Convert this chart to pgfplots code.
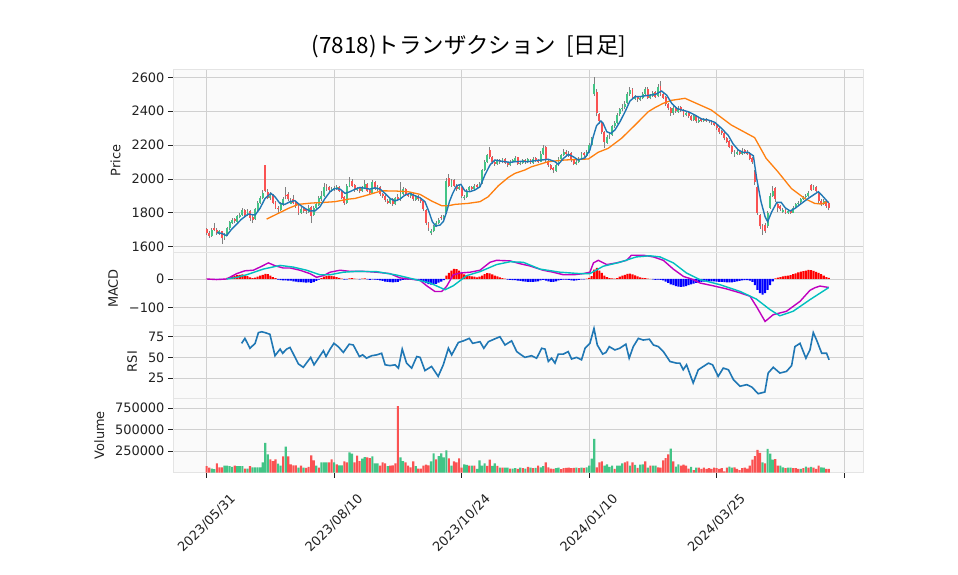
\documentclass[border=0pt]{standalone}
\usepackage{fontspec}
\setmainfont{DejaVu Sans}
\newfontfamily\cjk{Noto Sans CJK JP}
\usepackage{pgfplots}
\pgfplotsset{compat=1.18}
\usepackage{pgfplotstable}

\definecolor{upc}{RGB}{66,196,134}
\definecolor{dnc}{RGB}{250,82,82}
\definecolor{wickc}{RGB}{128,128,128}
\definecolor{gridc}{RGB}{208,208,208}
\definecolor{bgc}{RGB}{250,250,250}
\definecolor{edgec}{RGB}{228,228,228}
\definecolor{ma5c}{RGB}{31,119,180}
\definecolor{ma25c}{RGB}{255,127,14}
\definecolor{macdc}{RGB}{191,0,191}
\definecolor{sigc}{RGB}{0,191,191}
\definecolor{tickc}{RGB}{34,34,34}

% i  open high low close  volume(thousands)  volume-up  macd-hist
\pgfplotstableread{
i o h l c v vc hd
0 1705 1712 1668 1680 73 0 0
1 1680 1690 1652 1665 58 0 -1
2 1665 1712 1660 1700 46 1 0
3 1712 1738 1690 1700 38 1 -1
4 1700 1708 1672 1680 107 0 -1
5 1678 1700 1670 1690 61 0 -2
6 1690 1695 1618 1650 61 0 -2
7 1652 1680 1640 1670 80 1 0
8 1668 1718 1662 1710 80 1 4
9 1708 1752 1700 1745 73 1 7
10 1742 1772 1735 1760 65 1 10
11 1765 1772 1738 1750 80 0 12
12 1748 1790 1742 1780 73 1 14
13 1778 1800 1768 1790 73 1 15
14 1788 1828 1782 1815 73 1 16
15 1815 1822 1782 1790 46 0 12
16 1788 1820 1780 1810 46 1 10
17 1810 1815 1752 1770 73 0 6
18 1775 1788 1742 1760 61 1 3
19 1762 1828 1758 1820 61 1 5
20 1818 1868 1812 1860 61 1 8
21 1858 1898 1850 1890 61 1 12
22 1888 1932 1880 1920 119 1 15
23 2080 2085 1922 1930 345 1 18
24 1925 1940 1880 1890 211 1 17
25 1888 1922 1875 1900 154 0 12
26 1905 1910 1850 1860 134 0 7
27 1862 1870 1822 1830 154 0 3
28 1830 1838 1800 1820 104 1 -2
29 1818 1862 1812 1850 80 1 -4
30 1848 1892 1840 1880 188 0 -5
31 1905 1950 1880 1900 303 1 -5
32 1910 1925 1870 1880 188 0 -6
33 1855 1890 1850 1870 96 0 -6
34 1880 1905 1850 1860 84 0 -8
35 1862 1870 1830 1840 84 0 -9
36 1840 1848 1790 1800 58 1 -11
37 1800 1832 1795 1820 80 0 -11
38 1822 1830 1800 1810 58 1 -12
39 1820 1825 1795 1810 54 0 -13
40 1805 1845 1800 1830 65 0 -12
41 1835 1840 1740 1780 200 0 -14
42 1785 1842 1780 1830 142 0 -11
43 1828 1860 1820 1850 80 1 -7
44 1848 1900 1842 1890 58 0 -2
45 1880 1930 1870 1900 119 1 3
46 1900 1975 1895 1950 119 1 8
47 1960 1968 1930 1950 119 1 11
48 1950 1958 1920 1935 119 0 12
49 1932 1952 1925 1940 154 0 11
50 1938 1960 1930 1945 119 1 9
51 1942 1962 1935 1950 96 0 7
52 1955 1960 1922 1930 84 1 4
53 1930 1935 1880 1890 84 1 1
54 1892 1898 1845 1860 130 0 -2
55 1860 1968 1855 1960 119 0 -1
56 1958 2010 1950 1985 234 1 2
57 1990 2000 1950 1960 219 1 3
58 1962 1970 1925 1935 119 0 1
59 1935 1952 1928 1940 196 0 0
60 1945 1950 1920 1930 134 0 -1
61 1928 1958 1922 1950 161 1 1
62 1948 1995 1942 1970 180 1 2
63 1972 1978 1922 1930 177 0 -1
64 1932 1938 1910 1920 169 0 -3
65 1920 1995 1915 1980 188 1 -1
66 1982 1988 1935 1940 107 1 -2
67 1938 1962 1930 1950 107 1 -3
68 1952 1958 1900 1910 80 0 -5
69 1912 1918 1890 1900 119 0 -7
70 1902 1908 1865 1875 107 0 -9
71 1870 1880 1850 1860 73 1 -10
72 1858 1888 1852 1880 80 0 -11
73 1882 1886 1840 1850 84 0 -12
74 1852 1895 1846 1885 107 0 -11
75 1895 1910 1868 1880 776 0 -10
76 1878 1985 1872 1910 177 1 -6
77 1912 1950 1905 1940 134 1 -3
78 1942 1948 1900 1910 119 0 -2
79 1912 1918 1892 1900 80 0 -2
80 1898 1925 1890 1915 61 0 -1
81 1912 1918 1872 1880 130 0 -2
82 1878 1908 1872 1900 73 1 -3
83 1902 1906 1872 1880 46 0 -4
84 1882 1888 1860 1870 46 0 -6
85 1872 1876 1810 1820 80 0 -10
86 1815 1820 1728 1740 92 0 -15
87 1738 1745 1695 1710 84 0 -18
88 1680 1705 1668 1690 130 1 -20
89 1692 1730 1685 1720 223 1 -19
90 1722 1750 1715 1740 154 0 -17
91 1742 1770 1735 1760 192 1 -13
92 1775 1785 1755 1770 223 1 -9
93 1772 1790 1762 1780 177 1 -4
94 1800 2005 1795 1990 257 1 12
95 2005 2030 1950 1960 165 0 22
96 1960 2000 1955 1990 80 1 30
97 1995 2002 1950 1960 130 0 36
98 1962 1968 1930 1940 119 0 35
99 1942 1962 1935 1950 165 0 30
100 1950 1955 1890 1900 58 0 22
101 1885 1905 1875 1895 96 1 16
102 1896 1940 1890 1930 88 1 13
103 1932 1960 1925 1950 80 0 11
104 1952 1958 1932 1940 80 1 9
105 1942 1970 1936 1960 80 0 8
106 1962 1968 1942 1950 42 1 6
107 1952 1980 1945 1970 142 1 8
108 1975 2060 1970 2050 80 1 12
109 2052 2110 2045 2100 107 1 17
110 2102 2150 2095 2140 77 0 21
111 2170 2190 2120 2130 150 0 20
112 2128 2135 2090 2100 77 1 16
113 2102 2108 2078 2090 107 1 12
114 2088 2120 2082 2110 77 0 9
115 2112 2118 2090 2100 58 1 6
116 2098 2125 2092 2115 58 0 3
117 2116 2122 2088 2095 58 1 1
118 2096 2100 2070 2080 58 1 -2
119 2082 2110 2076 2100 46 0 -3
120 2098 2120 2092 2110 46 1 -4
121 2108 2135 2100 2125 50 1 -4
122 2128 2132 2082 2090 42 0 -6
123 2088 2105 2080 2095 58 1 -7
124 2094 2118 2088 2110 50 0 -8
125 2112 2116 2090 2100 46 1 -9
126 2098 2125 2092 2115 65 0 -10
127 2116 2120 2088 2095 58 1 -10
128 2094 2130 2090 2120 50 0 -10
129 2122 2128 2102 2110 54 1 -9
130 2112 2116 2092 2100 80 0 -8
131 2102 2165 2098 2150 61 1 -5
132 2148 2200 2140 2180 73 1 -3
133 2190 2195 2100 2110 119 0 -6
134 2108 2115 2070 2080 61 0 -8
135 2082 2088 2050 2060 46 0 -10
136 2062 2068 2035 2050 42 0 -10
137 2048 2090 2042 2080 50 1 -8
138 2082 2130 2075 2120 58 1 -5
139 2118 2150 2110 2140 38 0 -3
140 2142 2175 2135 2160 50 0 -2
141 2162 2170 2140 2150 54 0 -2
142 2140 2165 2132 2150 58 0 -3
143 2152 2158 2100 2110 50 0 -5
144 2112 2118 2080 2090 54 0 -6
145 2088 2110 2080 2100 58 1 -5
146 2102 2130 2095 2120 50 0 -3
147 2118 2162 2112 2150 58 1 -1
148 2152 2158 2130 2140 54 0 -1
149 2138 2170 2132 2160 61 1 1
150 2162 2215 2155 2200 80 1 4
151 2202 2250 2195 2240 161 1 10
152 2500 2600 2490 2560 392 1 33
153 2515 2530 2370 2390 61 0 39
154 2385 2392 2322 2340 119 0 30
155 2338 2345 2265 2280 130 0 22
156 2278 2285 2180 2220 80 1 12
157 2215 2262 2205 2250 96 1 7
158 2252 2275 2238 2260 65 1 3
159 2262 2320 2255 2310 80 1 2
160 2312 2340 2300 2330 42 0 1
161 2332 2390 2325 2380 80 1 3
162 2382 2420 2372 2410 80 1 8
163 2412 2440 2400 2420 107 1 12
164 2422 2460 2415 2445 119 0 15
165 2448 2515 2440 2500 130 0 18
166 2502 2540 2490 2525 80 1 19
167 2528 2535 2470 2480 119 0 16
168 2472 2495 2465 2480 88 1 13
169 2482 2490 2455 2470 54 0 9
170 2468 2490 2460 2475 92 1 6
171 2478 2512 2470 2500 96 1 4
172 2502 2545 2495 2530 130 0 3
173 2532 2540 2472 2480 58 1 1
174 2478 2502 2470 2490 80 0 0
175 2492 2522 2485 2510 80 1 -1
176 2512 2520 2478 2485 80 1 -3
177 2488 2560 2482 2545 61 0 -2
178 2550 2580 2492 2500 58 0 -3
179 2502 2508 2470 2480 142 0 -5
180 2482 2488 2430 2440 169 0 -9
181 2442 2448 2405 2420 211 0 -14
182 2418 2425 2372 2390 280 1 -19
183 2388 2432 2380 2420 130 0 -22
184 2422 2428 2390 2400 69 1 -25
185 2398 2432 2390 2420 96 1 -27
186 2422 2428 2395 2405 80 0 -28
187 2404 2410 2365 2380 92 0 -27
188 2378 2400 2370 2390 80 0 -25
189 2392 2398 2360 2370 46 0 -22
190 2372 2378 2340 2350 65 1 -19
191 2348 2378 2342 2370 27 0 -16
192 2372 2375 2332 2340 58 1 -14
193 2338 2358 2330 2350 58 0 -12
194 2352 2358 2336 2345 42 0 -10
195 2342 2362 2335 2355 58 0 -9
196 2356 2360 2338 2345 42 0 -8
197 2346 2350 2330 2340 50 0 -8
198 2342 2348 2320 2330 42 0 -8
199 2332 2336 2310 2320 58 0 -8
200 2322 2326 2290 2300 50 0 -9
201 2302 2306 2268 2280 42 0 -10
202 2282 2288 2260 2270 50 0 -10
203 2272 2276 2228 2240 12 0 -11
204 2242 2248 2210 2220 58 0 -12
205 2222 2228 2180 2190 69 1 -12
206 2192 2198 2150 2160 58 1 -12
207 2140 2172 2132 2150 61 0 -10
208 2148 2178 2140 2160 42 0 -8
209 2162 2170 2140 2150 27 0 -7
210 2148 2180 2142 2165 50 0 -5
211 2168 2175 2150 2160 58 0 -4
212 2162 2168 2140 2150 46 0 -4
213 2152 2158 2110 2120 80 0 -6
214 2122 2128 2090 2100 150 0 -10
215 2040 2050 1965 1980 192 0 -22
216 1950 1960 1790 1800 265 0 -38
217 1790 1795 1705 1720 230 0 -50
218 1725 1735 1672 1700 119 1 -55
219 1730 1740 1680 1690 107 0 -50
220 1720 1810 1712 1800 276 1 -38
221 1830 1920 1825 1900 219 1 -22
222 1900 1960 1895 1930 150 1 -8
223 1945 1950 1865 1880 157 0 2
224 1855 1862 1805 1830 80 0 5
225 1840 1848 1812 1820 80 1 7
226 1805 1828 1800 1815 61 1 9
227 1818 1822 1792 1800 50 0 11
228 1798 1820 1792 1810 58 1 12
229 1812 1816 1795 1800 58 1 14
230 1802 1840 1798 1830 50 0 17
231 1832 1858 1826 1850 50 0 20
232 1852 1868 1845 1860 42 0 23
233 1862 1890 1855 1880 42 1 26
234 1882 1900 1875 1890 50 0 28
235 1892 1912 1885 1900 69 1 30
236 1902 1930 1895 1920 58 0 32
237 1965 1972 1928 1935 65 1 31
238 1938 1962 1932 1950 58 0 29
239 1952 1958 1922 1930 42 0 25
240 1925 1930 1860 1870 80 0 22
241 1872 1880 1838 1850 61 1 17
242 1852 1882 1846 1870 58 1 12
243 1872 1878 1830 1840 42 0 7
244 1860 1865 1815 1830 42 0 4
}\daily

\pgfplotsset{
  panel/.style={
    scale only axis, width=690bp, anchor=south west,
    xmin=-13.2, xmax=257.4, enlargelimits=false,
    xtick={0,50,100,150,200,250},
    axis background/.style={fill=bgc},
    axis line style={draw=edgec, line width=0.8bp},
    xmajorgrids, ymajorgrids,
    major grid style={draw=gridc, line width=0.9bp},
    tick align=outside, ytick pos=left,
    major tick length=5bp,
    tick style={draw=tickc, line width=0.8bp},
    tick label style={font=\fontsize{13}{15}\selectfont, text=tickc},
    label style={font=\fontsize{13}{15}\selectfont, text=tickc},
    ylabel shift=4bp,
    scaled y ticks=false,
  },
  upper/.style={xticklabels={}, xmajorticks=false},
  stick/.style 2 args={draw=none, mark=none, forget plot,
    error bars/.cd, y dir=plus, y explicit, error mark=none,
    error bar style={draw=#1, line width=#2, solid}},
}

\begin{document}
\begin{tikzpicture}
\fill[white, use as bounding box] (0,0) rectangle (958bp,575bp);

\node[anchor=base, font=\cjk\fontsize{22.5}{26}\selectfont] at (469bp,521bp)
  {(7818)トランザクション\hspace{0.45em}[日足]};

% ---- price ----
\begin{axis}[panel, upper, at={(173bp,323bp)}, height=183bp,
  ymin=1569, ymax=2649, ytick={1600,1800,2000,2200,2400,2600},
  yticklabels={1600,1800,2000,2200,2400,2600}, ylabel={Price}]
\addplot[stick={wickc}{0.9bp}]
  table[x=i, y=l, y error plus expr=\thisrow{h}-\thisrow{l}] {\daily};
\addplot[stick={upc}{1.9bp}] table[x=i, y=o, y error plus expr=\thisrow{c}-\thisrow{o},
  restrict expr to domain={\thisrow{c}-\thisrow{o}}{0:100000}] {\daily};
\addplot[stick={dnc}{1.9bp}] table[x=i, y=c, y error plus expr=\thisrow{o}-\thisrow{c},
  restrict expr to domain={\thisrow{o}-\thisrow{c}}{0.5:100000}] {\daily};
\addplot[ma25c, line width=1.3bp] coordinates {
(23.5,1763) (28.1,1797) (32,1826) (35.9,1850) (41.2,1858) (46.4,1862) (50.3,1866)
(55.6,1881) (58.2,1885) (62.1,1901) (68.6,1930) (73.8,1929) (79,1925) (83.7,1909)
(88.2,1870) (92.2,1842) (94.8,1842) (97.4,1850) (102.6,1856) (107.2,1866) (110.4,1895)
(114.4,1960) (118.3,2009) (120.9,2033) (124.8,2053) (127.4,2072) (134,2102) (140.5,2112)
(149.7,2118) (153.5,2157) (157.5,2181) (162.7,2240) (168,2318) (173.2,2397) (175.8,2421)
(179,2446) (182.3,2464) (187.6,2476) (197.9,2407) (205.8,2318) (214.9,2244) (219.4,2122)
(224,2043) (229.3,1944) (234.5,1885) (238.4,1856) (241,1852) (243.7,1866)};
\addplot[ma5c, line width=1.4bp] coordinates {
(4,1683) (5.9,1679) (7.8,1665) (9.8,1704) (11.8,1734) (13.7,1763) (16.3,1793) (19,1787)
(20.9,1826) (22.9,1885) (25.2,1915) (26.8,1895) (28.7,1856) (30.7,1850) (32.7,1866)
(34.6,1872) (36.6,1846) (38.6,1826) (40.5,1811) (42.5,1812) (44.4,1836) (46.4,1885)
(48.4,1925) (50.3,1944) (52.3,1940) (54.3,1915) (56.2,1925) (58.2,1940) (60.1,1950)
(62.1,1945) (64,1940) (66,1948) (68,1940) (69.9,1915) (71.9,1885) (73.8,1870) (75.8,1881)
(77.8,1905) (79.7,1915) (81.7,1901) (83.7,1889) (85.6,1866) (87.2,1806) (88.5,1748)
(89.8,1722) (91.5,1728) (92.8,1748) (94.1,1806) (95.2,1866) (96.5,1915) (98,1960)
(99.7,1968) (101.3,1929) (103.2,1925) (105.2,1935) (107.2,1954) (109.1,2023) (111.1,2082)
(113,2112) (115,2106) (117,2102) (119,2098) (121,2102) (123.5,2104) (126,2102) (128.8,2108)
(131.4,2112) (134,2116) (136.6,2102) (137.9,2086) (139.9,2121) (141.8,2145) (143.8,2131)
(145.7,2112) (148.4,2125) (150.3,2171) (151.6,2249) (152.9,2314) (154.6,2342) (155.5,2328)
(156.9,2279) (158.5,2269) (160.1,2289) (162.1,2338) (164.1,2397) (166,2460) (168,2486)
(170,2486) (172,2491) (174,2495) (176,2499) (178.4,2519) (180.4,2495) (182.4,2446)
(184.3,2417) (186.3,2407) (188.9,2397) (191.5,2377) (194.1,2354) (196.7,2348) (199.3,2334)
(201.9,2299) (204.6,2256) (206.5,2206) (208.5,2171) (210.4,2157) (212.4,2157) (214.4,2137)
(215.7,2003) (217.4,1866) (219,1777) (220,1748) (221.6,1806) (223.6,1862) (225.3,1862)
(226.9,1830) (228.8,1811) (230.7,1826) (233.3,1856) (235.9,1885) (237.9,1905) (239.9,1925)
(241.8,1895) (243.5,1866) (244,1860)};
\end{axis}

% ---- MACD ----
\begin{axis}[panel, upper, at={(173bp,250bp)}, height=73bp,
  ymin=-162.5, ymax=95.4, ytick={-100,0}, yticklabels={−100,0}, ylabel={MACD}]
\addplot[ybar, bar width=0.8, bar shift=0pt, fill=red, draw=none]
  table[x=i, y=hd, restrict expr to domain={\thisrow{hd}}{0:1000}] {\daily};
\addplot[ybar, bar width=0.8, bar shift=0pt, fill=blue, draw=none]
  table[x=i, y=hd, restrict expr to domain={\thisrow{hd}}{-1000:-0.5}] {\daily};
\addplot[macdc, line width=1.4bp] coordinates {
(0,0) (3.9,-2) (7.8,0) (11.8,19) (15,29) (18.3,31) (21.6,45) (24.2,57) (26.8,47) (30,39)
(32.7,39) (36.6,31) (40.5,19) (43.1,6) (45.8,12) (48.4,24) (52.3,31) (56.2,27) (61.4,27)
(66.7,24) (71.9,19) (75.8,4) (79.7,0) (83.7,-5) (86.3,-24) (89.5,-44) (92.2,-44) (94.1,-26)
(96.7,15) (99.3,21) (103.3,24) (107.2,31) (111.1,59) (113.7,66) (119,64) (122.9,54)
(126.8,46) (131.9,31) (135.9,24) (139.9,15) (144,15) (147.7,19) (150.3,24) (151.7,57)
(153.6,66) (156.9,51) (160.8,57) (164.7,66) (166.6,84) (171.2,84) (175.2,78) (179.1,66)
(183,35) (187,9) (190.8,-2) (193.4,-14) (198.6,-24) (203.9,-35) (209.2,-49) (213.1,-61)
(215.6,-97) (219,-150) (222.2,-126) (227.4,-114) (232.7,-79) (236.6,-40) (238.5,-31)
(240.5,-25) (244,-30)};
\addplot[sigc, line width=1.4bp] coordinates {
(7.8,0) (11.8,6) (15.7,15) (22.2,35) (28.8,48) (34,42) (39.2,31) (44.4,15) (48.4,15)
(53.6,24) (58.8,27) (66.7,26) (74.5,14) (81,0) (87.6,-14) (93.5,-38) (96.7,-24) (102,12)
(107.2,26) (113.7,51) (119,61) (124.2,59) (130.7,35) (138.6,24) (146.4,19) (150.3,19)
(155.5,45) (162,59) (168.5,78) (173.8,82) (177.8,78) (183,57) (188.2,21) (193.4,-2)
(201.3,-20) (209.2,-44) (215.6,-71) (220.9,-108) (224.8,-130) (230,-114) (236.6,-73)
(244,-30)};
\end{axis}

% ---- RSI ----
\begin{axis}[panel, upper, at={(173bp,177bp)}, height=73bp,
  ymin=0.8, ymax=89.2, ytick={25,50,75}, yticklabels={25,50,75}, ylabel={RSI}]
\addplot[ma5c, line width=1.6bp] coordinates {
(13.7,67) (15,73) (17,61) (19,67) (20.3,80) (21.6,81) (22.9,80) (24.8,78) (26.8,52)
(28.8,60) (29.8,55) (31.4,60) (32.7,62) (36,42) (37.9,38) (40.8,50) (42.1,41) (45.8,58)
(46.8,51) (48.4,60) (49.9,67) (51.6,63) (53.6,56) (55.9,66) (57.5,65) (59.9,51) (61.2,53)
(62.7,49) (64.7,52) (66.7,53) (68.6,55) (70,41) (71.9,40) (73.9,41) (75.2,37) (76.7,60)
(78.4,43) (80.4,37) (82.4,51) (83.7,50) (85.6,34) (88.2,39) (90.8,27) (92.8,41) (94.8,61)
(96.1,53) (98.7,68) (100.7,70) (103,73) (104.3,67) (107.2,69) (108.7,61) (110.5,69)
(112.7,72) (115,75) (117,65) (119.6,70) (121.6,57) (122.9,54) (124.8,50) (127.4,52)
(129.4,49) (131.4,61) (132.7,60) (134,45) (135.3,49) (136.6,43) (137.9,54) (139.9,54)
(141.8,57) (143.1,48) (145.1,50) (147,47) (148.4,61) (150.3,67) (151.9,85) (153.2,65)
(155.3,54) (156.6,56) (157.9,63) (160.1,59) (162,61) (164.4,66) (165.7,49) (167.3,63)
(169.3,73) (171.2,71) (173.6,72) (175.2,65) (177.2,63) (179.1,57) (181.7,45) (184.3,43)
(185.6,43) (186.9,35) (188.2,41) (190.8,19) (192.8,35) (194.8,39) (196.8,43) (198.4,41)
(200.6,27) (202.6,37) (204.6,35) (206.6,23) (209.2,15) (211.8,17) (213.8,14) (216.3,6)
(218.9,8) (220.2,31) (222.2,38) (224.8,31) (227.4,33) (229.4,40) (230.7,63) (232.7,67)
(235,49) (236.6,59) (237.9,80) (239.2,71) (241.2,55) (243.1,55) (244.1,47)};
\end{axis}

% ---- Volume ----
\begin{axis}[panel, at={(173bp,102.5bp)}, height=74.5bp,
  ymin=0, ymax=870, ytick={250,500,750}, yticklabels={250000,500000,750000},
  ylabel={Volume}, xtick pos=bottom,
  xticklabels={2023/05/31,2023/08/10,2023/10/24,2024/01/10,2024/03/25,{}},
  xticklabel style={rotate=45, anchor=center}, xticklabel shift=46bp]
\addplot[ybar, bar width=0.85, bar shift=0pt, fill=upc, draw=none]
  table[x=i, y=v, restrict expr to domain={\thisrow{vc}}{0.5:2}] {\daily};
\addplot[ybar, bar width=0.85, bar shift=0pt, fill=dnc, draw=none]
  table[x=i, y=v, restrict expr to domain={\thisrow{vc}}{-1:0.5}] {\daily};
\end{axis}
\end{tikzpicture}
\end{document}
